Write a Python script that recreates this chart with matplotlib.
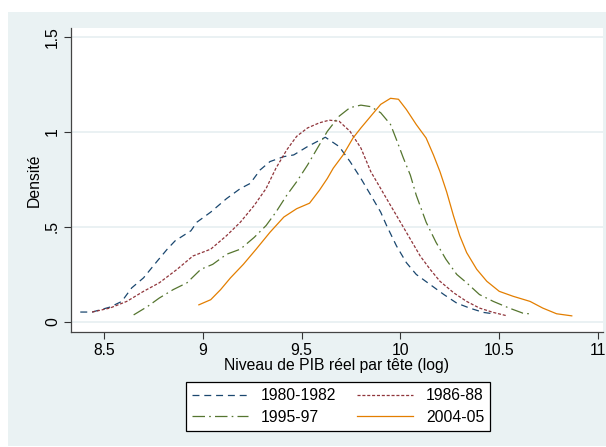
import numpy as np
import matplotlib
matplotlib.use("Agg")
import matplotlib.pyplot as plt
from matplotlib.patches import Rectangle

# Courbes de densité (x = log PIB, y = densité)
x_1980 = [8.38, 8.44, 8.53, 8.59, 8.64, 8.70, 8.77, 8.82, 8.86, 8.94, 8.97, 9.04, 9.12,
          9.19, 9.24, 9.29, 9.34, 9.41, 9.46, 9.53, 9.62, 9.69, 9.745, 9.80, 9.85, 9.90,
          9.93, 9.98, 10.03, 10.08, 10.15, 10.22, 10.285, 10.35, 10.42, 10.47]
y_1980 = [0.052, 0.052, 0.078, 0.108, 0.179, 0.232, 0.321, 0.383, 0.427, 0.48, 0.525, 0.578, 0.649,
          0.702, 0.729, 0.80, 0.844, 0.87, 0.879, 0.923, 0.972, 0.923, 0.844, 0.755, 0.667, 0.578,
          0.507, 0.40, 0.312, 0.25, 0.197, 0.144, 0.099, 0.073, 0.05, 0.043]

x_1986 = [8.44, 8.53, 8.615, 8.70, 8.78, 8.87, 8.95, 9.04, 9.12, 9.19, 9.26, 9.32, 9.37,
          9.425, 9.475, 9.53, 9.59, 9.64, 9.69, 9.745, 9.80, 9.85, 9.90, 9.95, 10.0, 10.05,
          10.10, 10.15, 10.20, 10.27, 10.335, 10.40, 10.47, 10.54]
y_1986 = [0.052, 0.073, 0.108, 0.161, 0.206, 0.277, 0.347, 0.383, 0.454, 0.525, 0.613, 0.702, 0.809,
          0.906, 0.977, 1.021, 1.048, 1.062, 1.056, 1.003, 0.915, 0.791, 0.702, 0.613, 0.525, 0.436,
          0.347, 0.277, 0.214, 0.153, 0.108, 0.073, 0.05, 0.032]

x_1995 = [8.65, 8.72, 8.78, 8.85, 8.92, 8.99, 9.05, 9.12, 9.19, 9.26, 9.32, 9.37, 9.425,
          9.475, 9.53, 9.575, 9.63, 9.69, 9.745, 9.80, 9.85, 9.90, 9.95, 9.98, 10.015, 10.05,
          10.08, 10.13, 10.18, 10.23, 10.285, 10.335, 10.40, 10.47, 10.55, 10.62, 10.67]
y_1995 = [0.037, 0.081, 0.126, 0.17, 0.206, 0.277, 0.303, 0.356, 0.383, 0.445, 0.507, 0.578, 0.667,
          0.738, 0.826, 0.906, 1.003, 1.083, 1.128, 1.141, 1.133, 1.101, 1.039, 0.959, 0.862, 0.773,
          0.667, 0.525, 0.419, 0.33, 0.25, 0.206, 0.144, 0.108, 0.073, 0.046, 0.041]

x_2004 = [8.98, 9.04, 9.09, 9.14, 9.205, 9.27, 9.34, 9.41, 9.475, 9.54, 9.59, 9.63, 9.66,
          9.71, 9.76, 9.80, 9.85, 9.90, 9.95, 9.99, 10.03, 10.08, 10.13, 10.167, 10.20, 10.234,
          10.268, 10.30, 10.335, 10.386, 10.437, 10.50, 10.57, 10.656, 10.72, 10.79, 10.867]
y_2004 = [0.09, 0.117, 0.17, 0.232, 0.303, 0.383, 0.472, 0.552, 0.596, 0.625, 0.693, 0.755, 0.809,
          0.879, 0.968, 1.021, 1.083, 1.145, 1.177, 1.172, 1.118, 1.039, 0.968, 0.879, 0.791, 0.684,
          0.56, 0.454, 0.365, 0.277, 0.214, 0.161, 0.135, 0.108, 0.073, 0.043, 0.032]

etiquettes = ["1980-1982", "1986-88", "1995-97", "2004-05"]
x_ticks = [8.5, 9, 9.5, 10, 10.5, 11]
x_tick_labels = ["8.5", "9", "9.5", "10", "10.5", "11"]
y_ticks = [0, 0.5, 1, 1.5]
y_tick_labels = ["0", ".5", "1", "1.5"]

plt.rcParams['font.family'] = ['Liberation Sans', 'DejaVu Sans']
plt.rcParams['lines.scale_dashes'] = False
taille = 11.3

fond = "#eaf2f3"
fig = plt.figure(figsize=(6.06, 4.47), dpi=100)
fig.patch.set_facecolor("white")
fig.patches.append(Rectangle((8 / 606, 0.002), 1, (447 - 12) / 447 - 0.002,
                             transform=fig.transFigure, facecolor=fond, edgecolor="none", zorder=-5))

ax = fig.add_axes([71 / 606, 1 - 332 / 447, (603 - 71) / 606, (332 - 28) / 447])
ax.set_zorder(2)
ax.set_facecolor("white")

l1, = ax.plot(x_1980, y_1980, color="#1a476f", lw=0.9, dashes=(5, 3.5))
l2, = ax.plot(x_1986, y_1986, color="#90353b", lw=0.9, dashes=(2.2, 1.3))
l3, = ax.plot(x_1995, y_1995, color="#55752f", lw=0.9, dashes=(9, 3, 1.2, 3))
l4, = ax.plot(x_2004, y_2004, color="#e37e00", lw=0.9)

ax.set_xlim(8.333, 11.025)
ax.set_ylim(-0.053, 1.547)
ax.set_xticks(x_ticks)
ax.set_xticklabels(x_tick_labels, fontsize=taille)
ax.set_yticks(y_ticks)
ax.set_yticklabels(y_tick_labels, fontsize=taille, rotation=90, va="center")
ax.yaxis.grid(True, color="#e6eff1", lw=1.2)
ax.set_axisbelow(True)
ax.tick_params(direction="out", length=5, width=0.8, color="#333333", pad=3)
for s in ["top", "right"]:
    ax.spines[s].set_visible(False)
for s in ["left", "bottom"]:
    ax.spines[s].set_color("#444444")
    ax.spines[s].set_linewidth(0.9)

ax.set_xlabel("Niveau de PIB réel par tête (log)", fontsize=taille, labelpad=0)
ax.set_ylabel("Densité", fontsize=taille, labelpad=2)

# ordre par lignes : matplotlib remplit les colonnes d'abord
leg = fig.legend([l1, l3, l2, l4], [etiquettes[0], etiquettes[2], etiquettes[1], etiquettes[3]],
                 loc="center", bbox_to_anchor=(338 / 606, 1 - 406.5 / 447), ncol=2,
                 fontsize=taille, frameon=True, fancybox=False, edgecolor="black", framealpha=1,
                 handlelength=3.6, columnspacing=1.3, handletextpad=0.8,
                 borderpad=0.4, labelspacing=0.42)
leg.get_frame().set_linewidth(0.9)
leg.set_zorder(3)

fig.savefig("out.png", dpi=100, facecolor=fig.get_facecolor())
